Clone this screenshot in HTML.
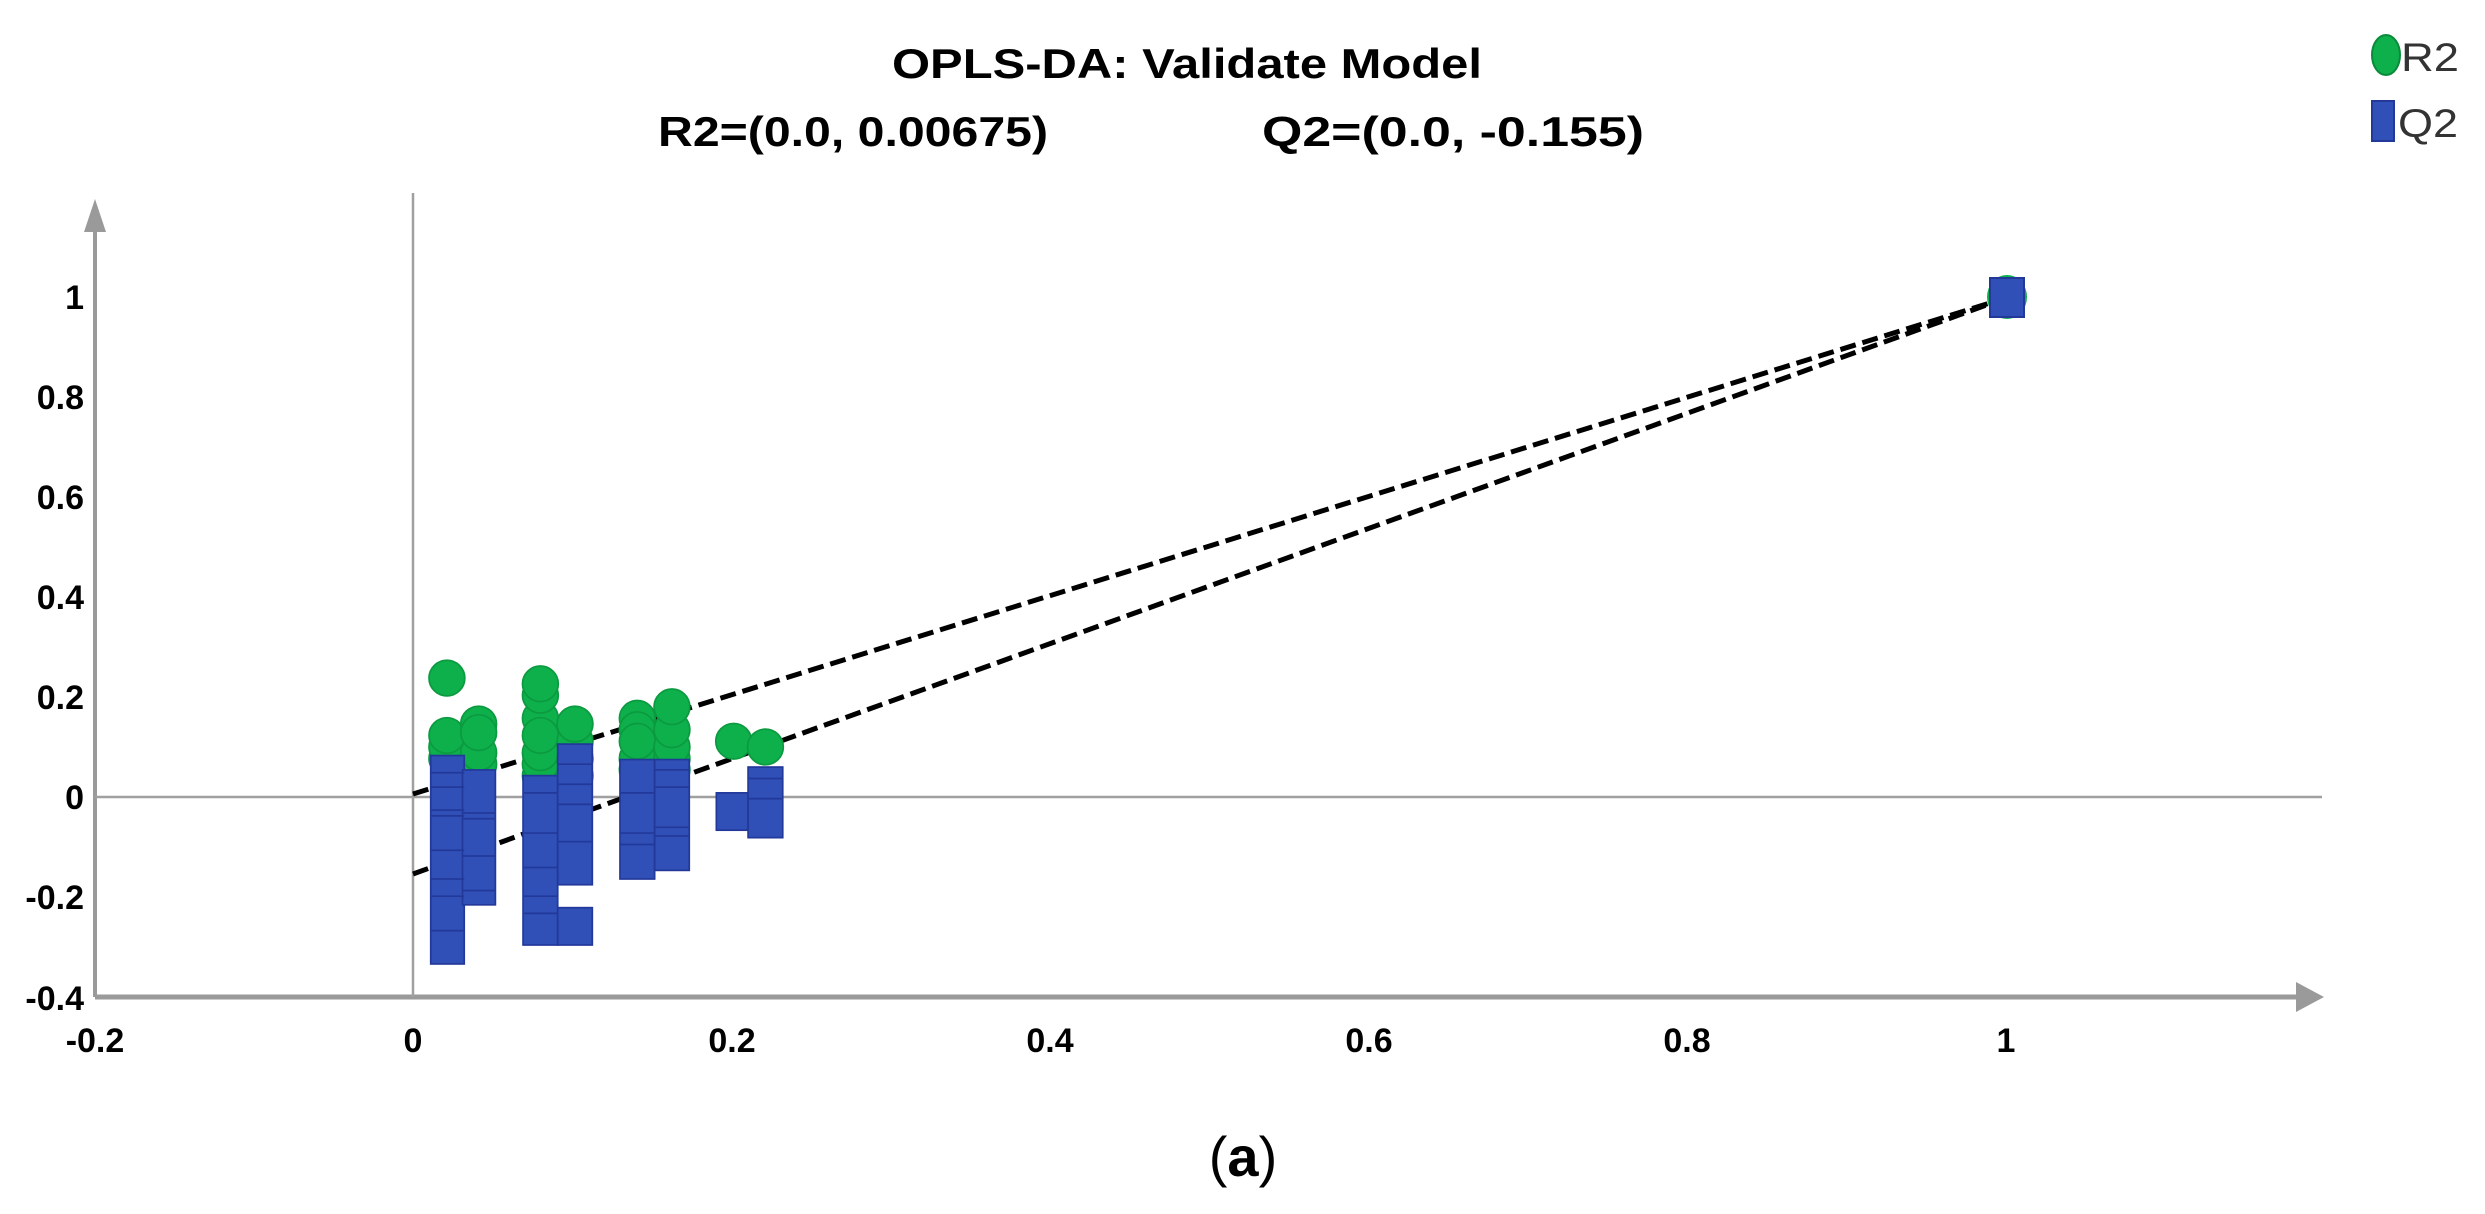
<!DOCTYPE html>
<html><head><meta charset="utf-8"><style>
html,body{margin:0;padding:0;background:#fff;}
svg{display:block;}
text{font-family:"Liberation Sans",sans-serif;}
</style></head><body>
<svg width="2485" height="1214" viewBox="0 0 2485 1214" xmlns="http://www.w3.org/2000/svg">
<rect width="2485" height="1214" fill="#fff"/>
<!-- title -->
<text x="1187" y="78" font-size="42" font-weight="bold" text-anchor="middle" textLength="590" lengthAdjust="spacingAndGlyphs">OPLS-DA: Validate Model</text>
<text x="658" y="146" font-size="42" font-weight="bold" textLength="390" lengthAdjust="spacingAndGlyphs">R2=(0.0, 0.00675)</text>
<text x="1262" y="146" font-size="42" font-weight="bold" textLength="382" lengthAdjust="spacingAndGlyphs">Q2=(0.0, -0.155)</text>
<!-- legend -->
<ellipse cx="2386" cy="55" rx="14" ry="20" fill="#0DB04B" stroke="#0a8a3a" stroke-width="2"/>
<text x="2401" y="71" font-size="40" fill="#333" textLength="58" lengthAdjust="spacingAndGlyphs">R2</text>
<rect x="2372" y="101" width="22" height="40" fill="#3050B8" stroke="#22399a" stroke-width="2"/>
<text x="2398" y="137" font-size="40" fill="#333" textLength="60" lengthAdjust="spacingAndGlyphs">Q2</text>
<!-- axes -->
<line x1="95" y1="997" x2="2300" y2="997" stroke="#9a9a9a" stroke-width="5"/>
<polygon points="2296,982 2324,997 2296,1012" fill="#9a9a9a"/>
<line x1="95" y1="997" x2="95" y2="225" stroke="#9a9a9a" stroke-width="4"/>
<polygon points="84,232 95,199 106,232" fill="#9a9a9a"/>
<line x1="95" y1="797" x2="2322" y2="797" stroke="#a0a0a0" stroke-width="2.5"/>
<line x1="413" y1="193" x2="413" y2="997" stroke="#a0a0a0" stroke-width="2.5"/>
<!-- y labels -->
<g font-size="34" font-weight="bold" text-anchor="end">
<text x="84" y="309">1</text>
<text x="84" y="409">0.8</text>
<text x="84" y="509">0.6</text>
<text x="84" y="609">0.4</text>
<text x="84" y="709">0.2</text>
<text x="84" y="809">0</text>
<text x="84" y="909">-0.2</text>
<text x="84" y="1010">-0.4</text>
</g>
<g font-size="34" font-weight="bold" text-anchor="middle">
<text x="95" y="1052">-0.2</text>
<text x="413" y="1052">0</text>
<text x="732" y="1052">0.2</text>
<text x="1050" y="1052">0.4</text>
<text x="1369" y="1052">0.6</text>
<text x="1687" y="1052">0.8</text>
<text x="2006" y="1052">1</text>
</g>
<text x="1243" y="1176" font-size="56" text-anchor="middle" font-family="Liberation Serif,serif">(<tspan font-weight="bold">a</tspan>)</text>
<!-- dashed lines -->
<line x1="413" y1="794" x2="2006" y2="298" stroke="#000" stroke-width="5" stroke-dasharray="16 7"/>
<line x1="413" y1="874" x2="2006" y2="298" stroke="#000" stroke-width="5" stroke-dasharray="16 7"/>
<!-- data in zoom coords -->
<g transform="translate(-2,150) scale(0.577,0.574)">
<g fill="#0DB04B" stroke="#0c9a40" stroke-width="3">
<circle cx="778" cy="1060" r="31"/><circle cx="778" cy="1040" r="31"/><circle cx="778" cy="1020" r="31"/><circle cx="778" cy="920" r="31"/>
<circle cx="833" cy="1070" r="31"/><circle cx="833" cy="1050" r="31"/><circle cx="833" cy="1000" r="31"/><circle cx="833" cy="1015" r="31"/>
<circle cx="940" cy="1090" r="31"/><circle cx="940" cy="1070" r="31"/><circle cx="940" cy="1050" r="31"/><circle cx="940" cy="990" r="31"/><circle cx="940" cy="950" r="31"/><circle cx="940" cy="930" r="31"/><circle cx="940" cy="1020" r="31"/>
<circle cx="1000" cy="1090" r="31"/><circle cx="1000" cy="1060" r="31"/><circle cx="1000" cy="1030" r="31"/><circle cx="1000" cy="1000" r="31"/>
<circle cx="1108" cy="1080" r="31"/><circle cx="1108" cy="1060" r="31"/><circle cx="1108" cy="990" r="31"/><circle cx="1108" cy="1010" r="31"/><circle cx="1108" cy="1030" r="31"/>
<circle cx="1168" cy="1080" r="31"/><circle cx="1168" cy="1060" r="31"/><circle cx="1168" cy="1040" r="31"/><circle cx="1168" cy="1010" r="31"/><circle cx="1168" cy="970" r="31"/>
<circle cx="1275" cy="1030" r="31"/><circle cx="1330" cy="1040" r="31"/>
</g>
<g fill="#3050B8" stroke="#22399a" stroke-width="3">
<rect x="750" y="1055" width="58" height="363"/>
<rect x="805" y="1080" width="57" height="235"/>
<rect x="910" y="1090" width="60" height="295"/>
<rect x="970" y="1035" width="60" height="245"/>
<rect x="970" y="1320" width="60" height="65"/>
<rect x="1078" y="1062" width="60" height="208"/>
<rect x="1138" y="1062" width="60" height="193"/>
<rect x="1245" y="1120" width="55" height="65"/>
<rect x="1300" y="1075" width="60" height="123"/>
</g>
<g stroke="#22399a" stroke-width="3">
<path d="M750 1085H808M750 1110H808M750 1150H808M750 1160H808M750 1220H808M750 1270H808M750 1300H808M750 1360H808"/>
<path d="M805 1155H862M805 1165H862M805 1230H862M805 1290H862"/>
<path d="M910 1120H970M910 1190H970M910 1250H970M910 1300H970M910 1330H970"/>
<path d="M970 1070H1030M970 1105H1030M970 1140H1030M970 1205H1030"/>
<path d="M1078 1120H1138M1078 1190H1138M1078 1210H1138"/>
<path d="M1138 1080H1198M1138 1110H1198M1138 1180H1198M1138 1195H1198"/>
<path d="M1300 1095H1360M1300 1130H1360"/>
</g>
</g>
<!-- end point -->
<ellipse cx="2007" cy="297" rx="20" ry="22" fill="#0DB04B"/>
<rect x="1990" y="278" width="34" height="39" fill="#3050B8" stroke="#22399a" stroke-width="2"/>
</svg>
</body></html>
